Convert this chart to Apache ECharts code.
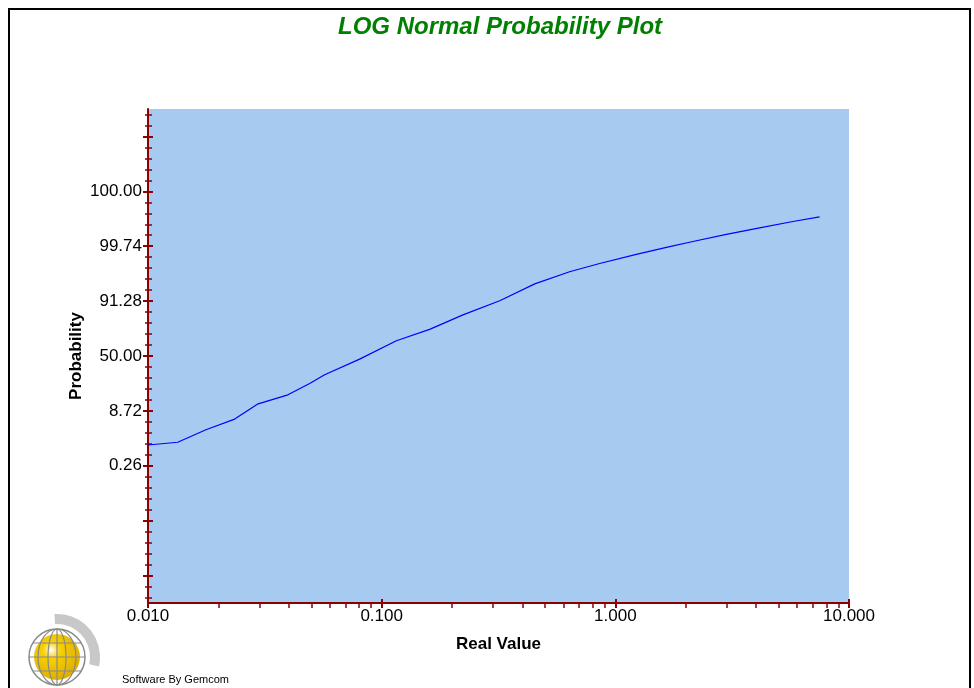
<!DOCTYPE html>
<html><head><meta charset="utf-8">
<script src="https://cdn.jsdelivr.net/npm/echarts@6/dist/echarts.min.js"></script>
<style>html,body{margin:0;padding:0;background:#fff}#c{width:974px;height:688px}</style>
</head><body><div id="c"></div>
<script>
// ---- data ----
const realValues = [0.010, 0.0134, 0.0177, 0.0235, 0.0296, 0.0397, 0.0492, 0.057, 0.0805, 0.1156, 0.1604, 0.2228, 0.320, 0.452, 0.637, 0.857, 1.230, 1.708, 2.148, 2.985, 4.143, 5.754, 7.484];
const normalScores = [-2.27, -2.20, -1.88, -1.61, -1.22, -0.99, -0.70, -0.48, -0.08, 0.39, 0.68, 1.05, 1.41, 1.84, 2.15, 2.36, 2.59, 2.79, 2.92, 3.10, 3.27, 3.43, 3.55];
const probTickScores = [-2.8, -1.4, 0, 1.4, 2.8, 4.2];
const probTickLabels = ['0.26', '8.72', '50.00', '91.28', '99.74', '100.00'];
const yMajorTicks = [-5.6, -4.2, -2.8, -1.4, 0, 1.4, 2.8, 4.2, 5.6];
const xMajorTicks = [0.01, 0.1, 1, 10];
const xTickLabels = ['0.010', '0.100', '1.000', '10.000'];
const xMinorTicks = [0.02,0.03,0.04,0.05,0.06,0.07,0.08,0.09,0.2,0.3,0.4,0.5,0.6,0.7,0.8,0.9,2,3,4,5,6,7,8,9];
const yMinorTicks = [];
for (let i = -22; i <= 22; i++) if (i % 5 !== 0) yMinorTicks.push(Math.round(i * 0.28 * 100) / 100);

const AX = '#8B0000';
const FONT = 'Arial, "Liberation Sans", sans-serif';
const chart = echarts.init(document.getElementById('c'), null, {renderer: 'canvas'});

const yBase = {type: 'value', min: -6.3, max: 6.3, position: 'left', splitLine: {show: false}, axisLabel: {show: false}, axisLine: {show: false, onZero: false}};
const xBase = {type: 'log', logBase: 10, min: 0.01, max: 10, position: 'bottom', splitLine: {show: false}, axisLabel: {show: false}, axisLine: {show: false, onZero: false}};

chart.setOption({
  animation: false,
  backgroundColor: '#ffffff',
  title: {
    text: 'LOG Normal Probability Plot', left: 333, top: 10,
    textStyle: {color: '#008000', fontSize: 24, fontWeight: 'bold', fontStyle: 'italic', fontFamily: FONT}
  },
  grid: {left: 148, right: 125, top: 109, bottom: 85, show: true, backgroundColor: '#A6CAF0', borderWidth: 0},
  xAxis: [
    Object.assign({}, xBase, {
      axisLine: {show: true, onZero: false, lineStyle: {color: AX, width: 2}},
      axisTick: {show: true, customValues: xMajorTicks, inside: false, length: 5, lineStyle: {color: AX, width: 2}},
      axisLabel: {show: true, customValues: xMajorTicks, margin: 5, color: '#000', fontSize: 17, fontFamily: FONT,
        formatter: v => { const i = xMajorTicks.findIndex(t => Math.abs(t - v) / t < 1e-6); return i >= 0 ? xTickLabels[i] : ''; }},
      name: 'Real Value', nameLocation: 'middle', nameGap: 33,
      nameTextStyle: {color: '#000', fontSize: 17, fontWeight: 'bold', fontFamily: FONT}
    }),
    Object.assign({}, xBase, {axisTick: {show: true, customValues: xMajorTicks, inside: true, length: 4, lineStyle: {color: AX, width: 2}}}),
    Object.assign({}, xBase, {axisTick: {show: true, customValues: xMinorTicks, inside: false, length: 5, lineStyle: {color: AX, width: 1.5}}})
  ],
  yAxis: [
    Object.assign({}, yBase, {
      axisLine: {show: true, onZero: false, lineStyle: {color: AX, width: 2}},
      axisTick: {show: true, customValues: yMajorTicks, inside: false, length: 5, lineStyle: {color: AX, width: 2}},
      axisLabel: {show: true, customValues: probTickScores, margin: 6, color: '#000', fontSize: 17, fontFamily: FONT,
        formatter: v => { const i = probTickScores.findIndex(t => Math.abs(t - v) < 1e-6); return i >= 0 ? probTickLabels[i] : ''; }},
      name: 'Probability', nameLocation: 'middle', nameGap: 63, nameMoveOverlap: false,
      nameTextStyle: {color: '#000', fontSize: 17, fontWeight: 'bold', fontFamily: FONT}
    }),
    Object.assign({}, yBase, {axisTick: {show: true, customValues: yMajorTicks, inside: true, length: 5, lineStyle: {color: AX, width: 2}}}),
    Object.assign({}, yBase, {axisTick: {show: true, customValues: yMinorTicks, inside: false, length: 3, lineStyle: {color: AX, width: 1.5}}}),
    Object.assign({}, yBase, {axisTick: {show: true, customValues: yMinorTicks, inside: true, length: 4, lineStyle: {color: AX, width: 1.5}}})
  ],
  series: [{
    type: 'line', xAxisIndex: 0, yAxisIndex: 0, showSymbol: false, symbol: 'none',
    lineStyle: {color: '#0000FF', width: 1.2},
    data: realValues.map((x, i) => [x, normalScores[i]])
  }],
  graphic: [
    {type: 'rect', shape: {x: 9, y: 9, width: 961, height: 700}, style: {fill: 'none', stroke: '#000', lineWidth: 2}, silent: true},
    {type: 'text', left: 122, top: 674, style: {text: 'Software By Gemcom', fill: '#000', font: '11px ' + FONT}},
    {type: 'sector', silent: true, shape: {cx: 57, cy: 657, r: 43, r0: 33, startAngle: -Math.PI / 2 - 0.06, endAngle: 0.22, clockwise: true}, style: {fill: '#C8C8C8'}},
    {type: 'circle', silent: true, shape: {cx: 57, cy: 657, r: 23}, style: {fill: new echarts.graphic.RadialGradient(0.38, 0.35, 0.75, [{offset: 0, color: '#ffffff'}, {offset: 0.25, color: '#F8D000'}, {offset: 1, color: '#D8A800'}])}},
    {type: 'circle', silent: true, shape: {cx: 57, cy: 657, r: 28}, style: {fill: 'none', stroke: '#8A8A8A', lineWidth: 1.5}},
    {type: 'ellipse', silent: true, shape: {cx: 57, cy: 657, rx: 19, ry: 28}, style: {fill: 'none', stroke: '#8A8A8A', lineWidth: 1.2}},
    {type: 'ellipse', silent: true, shape: {cx: 57, cy: 657, rx: 9, ry: 28}, style: {fill: 'none', stroke: '#8A8A8A', lineWidth: 1.2}},
    {type: 'line', silent: true, shape: {x1: 57, y1: 629, x2: 57, y2: 685}, style: {stroke: '#8A8A8A', lineWidth: 1.2}},
    {type: 'line', silent: true, shape: {x1: 29, y1: 657, x2: 85, y2: 657}, style: {stroke: '#8A8A8A', lineWidth: 1.2}},
    {type: 'line', silent: true, shape: {x1: 33, y1: 643, x2: 81, y2: 643}, style: {stroke: '#8A8A8A', lineWidth: 1.2}},
    {type: 'line', silent: true, shape: {x1: 33, y1: 671, x2: 81, y2: 671}, style: {stroke: '#8A8A8A', lineWidth: 1.2}}
  ]
});
</script>
</body></html>
